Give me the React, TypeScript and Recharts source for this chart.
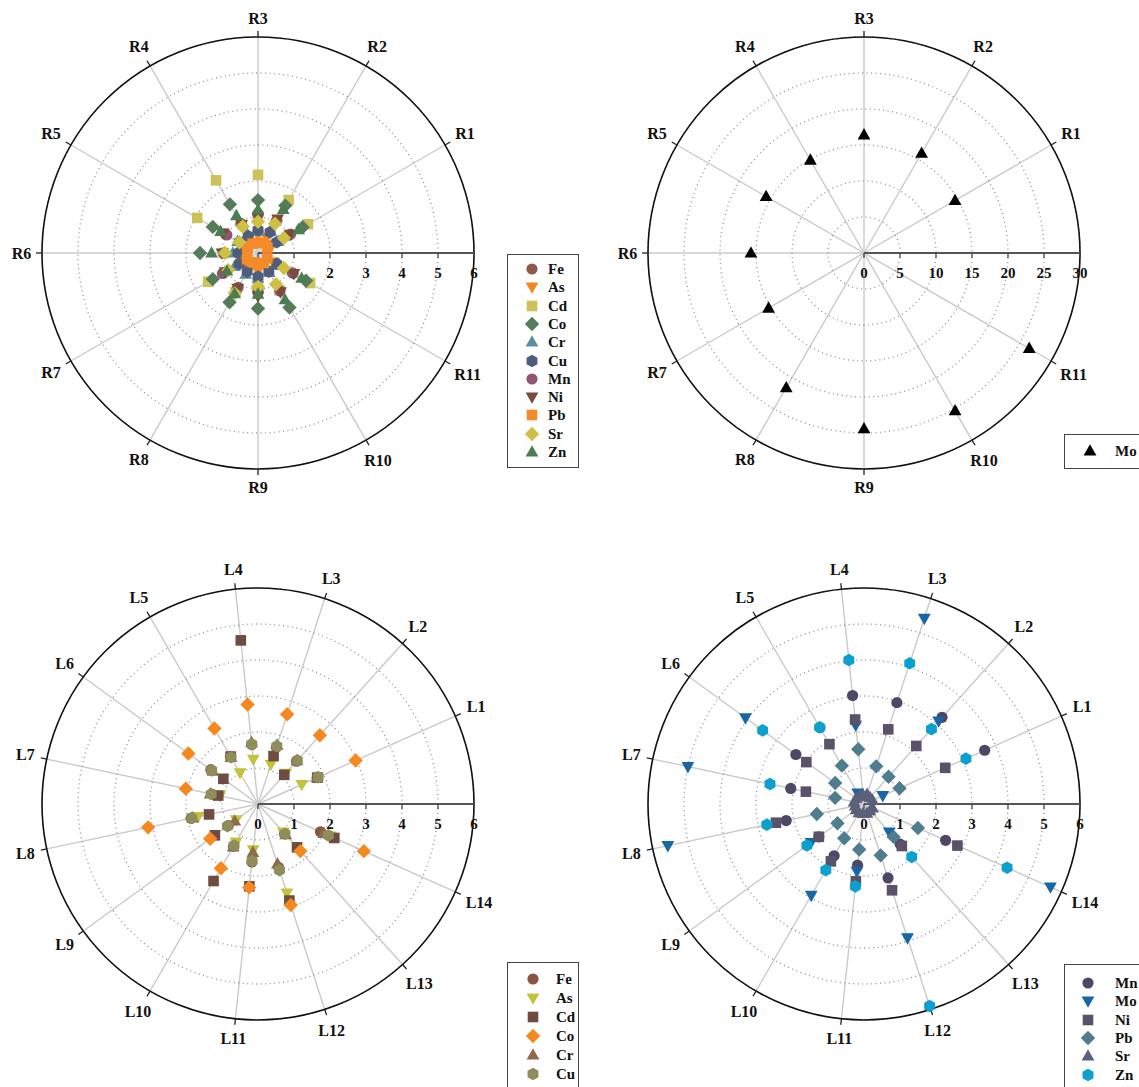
import React from 'react';
import { RadarChart, Radar, PolarGrid, PolarAngleAxis, PolarRadiusAxis } from 'recharts';

const FONT = '"Liberation Serif", "Times New Roman", Times, serif';

// ---------- categories & tick labels ----------
// the extra slot sits on the radial axis (0°) and carries no label
const AXIS_SLOT = 'axis';
const rCats = ['R1', 'R2', 'R3', 'R4', 'R5', 'R6', 'R7', 'R8', 'R9', 'R10', 'R11'];
const lCats = ['L1', 'L2', 'L3', 'L4', 'L5', 'L6', 'L7', 'L8', 'L9', 'L10', 'L11', 'L12', 'L13', 'L14'];
const ticks6 = [0, 1, 2, 3, 4, 5, 6];
const ticks30 = [0, 5, 10, 15, 20, 25, 30];

// ---------- top-left (R1..R11) ----------
const tlFe = [1.0, 1.05, 1.05, 0.95, 1.05, 0.95, 1.1, 1.1, 1.0, 1.2, 1.1];
const tlAs = [0.45, 0.5, 0.5, 0.5, 0.55, 0.45, 0.55, 0.5, 0.5, 0.55, 0.5];
const tlCd = [1.6, 1.7, 2.17, 2.33, 1.95, 0.95, 1.6, 1.25, 0.9, 1.2, 1.67];
const tlCo = [1.43, 1.52, 1.47, 1.56, 1.45, 1.61, 1.45, 1.58, 1.54, 1.75, 1.54];
const tlCr = [0.65, 0.7, 0.6, 0.6, 0.65, 0.7, 0.75, 0.68, 0.7, 0.62, 0.68];
const tlCu = [0.6, 0.67, 0.64, 0.54, 0.6, 0.55, 0.6, 0.6, 0.66, 0.6, 0.6];
const tlMn = [1.05, 1.0, 1.1, 0.9, 1.0, 0.96, 1.14, 1.15, 1.1, 1.22, 1.13];
const tlNi = [1.03, 1.09, 1.0, 0.91, 1.11, 1.0, 1.05, 1.13, 1.2, 1.25, 1.15];
const tlPb = [0.3, 0.32, 0.28, 0.3, 0.33, 0.3, 0.35, 0.3, 0.28, 0.32, 0.3];
const tlSr = [0.83, 0.94, 0.87, 0.85, 0.6, 0.92, 0.95, 1.29, 0.94, 1.0, 0.83];
const tlZn = [1.3, 1.4, 1.2, 1.2, 1.2, 1.29, 1.0, 1.3, 1.14, 1.5, 1.4];

// ---------- top-right (R1..R11) ----------
const trMo = [14.6, 16.0, 16.4, 14.9, 15.7, 15.7, 15.3, 21.6, 24.4, 25.3, 26.5];

// ---------- bottom-left (L1..L14) ----------
const blFe = [1.8, 1.6, 1.66, 1.66, 1.53, 1.62, 1.3, 1.9, 1.02, 1.36, 1.62, 1.85, 1.1, 1.9];
const blAs = [1.33, 1.15, 1.16, 1.25, 1.0, 1.2, 1.08, 1.7, 0.75, 1.22, 1.28, 2.6, 1.05, 2.2];
const blCd = [1.8, 1.09, 1.4, 4.57, 1.52, 1.19, 1.13, 1.39, 1.48, 2.47, 2.3, 2.82, 1.62, 2.32];
const blCo = [2.97, 2.57, 2.62, 2.78, 2.42, 2.39, 2.05, 3.12, 1.64, 2.06, 2.33, 2.95, 1.76, 3.22];
const blCr = [1.8, 1.62, 1.72, 1.72, 1.5, 1.55, 1.36, 1.85, 0.8, 1.38, 1.35, 1.75, 1.15, 2.0];
const blCu = [1.83, 1.63, 1.69, 1.67, 1.5, 1.59, 1.33, 1.88, 1.05, 1.33, 1.59, 1.93, 1.12, 2.14];

// ---------- bottom-right (L1..L14) ----------
const brMn = [3.67, 3.24, 2.96, 3.03, 2.45, 2.34, 2.08, 2.21, 1.55, 1.66, 1.71, 2.16, 1.5, 2.48];
const brMo = [0.57, 3.1, 5.42, 2.2, 0.35, 4.07, 5.0, 5.57, 1.82, 2.93, 1.88, 3.91, 1.05, 5.67];
const brNi = [2.47, 2.17, 2.18, 2.36, 1.92, 1.98, 1.65, 2.5, 1.55, 1.84, 2.16, 2.52, 1.57, 2.84];
const brPb = [1.08, 1.02, 1.1, 1.53, 1.23, 0.99, 0.82, 1.34, 0.91, 1.1, 1.27, 1.5, 1.23, 1.64];
const brSr = [0.26, 0.25, 0.28, 0.26, 0.24, 0.27, 0.28, 0.25, 0.27, 0.28, 0.26, 0.27, 0.25, 0.26];
const brZn = [3.1, 2.8, 4.11, 4.02, 2.46, 3.48, 2.67, 2.76, 1.96, 2.12, 2.3, 5.9, 1.98, 4.35];

type Shape = 'circle' | 'square' | 'diamond' | 'triUp' | 'triDown' | 'hexagon';
type Series = { name: string; values: number[]; shape: Shape; color: string };

const tlSeries: Series[] = [
  { name: 'Fe', values: tlFe, shape: 'circle', color: '#8e5a48' },
  { name: 'As', values: tlAs, shape: 'triDown', color: '#f7861e' },
  { name: 'Cd', values: tlCd, shape: 'square', color: '#cdc25a' },
  { name: 'Co', values: tlCo, shape: 'diamond', color: '#567b59' },
  { name: 'Cr', values: tlCr, shape: 'triUp', color: '#5b8da3' },
  { name: 'Cu', values: tlCu, shape: 'hexagon', color: '#4e5d7c' },
  { name: 'Mn', values: tlMn, shape: 'circle', color: '#8f5674' },
  { name: 'Ni', values: tlNi, shape: 'triDown', color: '#7b4b3b' },
  { name: 'Pb', values: tlPb, shape: 'square', color: '#f58a2a' },
  { name: 'Sr', values: tlSr, shape: 'diamond', color: '#cdc043' },
  { name: 'Zn', values: tlZn, shape: 'triUp', color: '#4b7c52' },
];
const trSeries: Series[] = [{ name: 'Mo', values: trMo, shape: 'triUp', color: '#000000' }];
const blSeries: Series[] = [
  { name: 'Fe', values: blFe, shape: 'circle', color: '#8a5443' },
  { name: 'As', values: blAs, shape: 'triDown', color: '#c3c23b' },
  { name: 'Cd', values: blCd, shape: 'square', color: '#6e4c42' },
  { name: 'Co', values: blCo, shape: 'diamond', color: '#f5881f' },
  { name: 'Cr', values: blCr, shape: 'triUp', color: '#8d6b4b' },
  { name: 'Cu', values: blCu, shape: 'hexagon', color: '#8f8e5b' },
];
const brSeries: Series[] = [
  { name: 'Mn', values: brMn, shape: 'circle', color: '#4e4765' },
  { name: 'Mo', values: brMo, shape: 'triDown', color: '#1866a6' },
  { name: 'Ni', values: brNi, shape: 'square', color: '#595269' },
  { name: 'Pb', values: brPb, shape: 'diamond', color: '#4e7d8e' },
  { name: 'Sr', values: brSr, shape: 'triUp', color: '#5a607a' },
  { name: 'Zn', values: brZn, shape: 'hexagon', color: '#0ca0cf' },
];

const pts = (list: number[][], x: number, y: number) => list.map(([a, b]) => `${x + a},${y + b}`).join(' ');

function Marker({ x, y, shape, color }: { x: number; y: number; shape: Shape; color: string }) {
  switch (shape) {
    case 'circle':
      return <circle cx={x} cy={y} r={5.6} fill={color} />;
    case 'square':
      return <rect x={x - 5.3} y={y - 5.3} width={10.6} height={10.6} fill={color} />;
    case 'diamond':
      return <polygon points={pts([[0, -7.2], [7.2, 0], [0, 7.2], [-7.2, 0]], x, y)} fill={color} />;
    case 'triUp':
      return <polygon points={pts([[0, -6.8], [6.4, 4.6], [-6.4, 4.6]], x, y)} fill={color} />;
    case 'triDown':
      return <polygon points={pts([[0, 6.8], [6.4, -4.6], [-6.4, -4.6]], x, y)} fill={color} />;
    case 'hexagon': {
      const h: number[][] = [];
      for (let k = 0; k < 6; k++) {
        const a = ((-90 + 60 * k) * Math.PI) / 180;
        h.push([6.3 * Math.cos(a), 6.3 * Math.sin(a)]);
      }
      return <polygon points={pts(h, x, y)} fill={color} />;
    }
  }
  return null;
}

const makeDot = (shape: Shape, color: string) => (props: any) => {
  const { cx, cy, index } = props;
  const v = props.value ?? props.payload?.value;
  if (v == null || Number.isNaN(v) || !Number.isFinite(cx) || !Number.isFinite(cy)) {
    return <g key={`e-${index}`} />;
  }
  return (
    <g key={`d-${index}`}>
      <Marker x={cx} y={cy} shape={shape} color={color} />
    </g>
  );
};

const W = 560;
const C = W / 2;
const R = 216;

function PolarPanel({ cx, cy, cats, series, ticks }: { cx: number; cy: number; cats: string[]; series: Series[]; ticks: number[] }) {
  // angles run clockwise from 360°, so the axis slot comes first and the
  // categories follow in reverse order -> R1/L1 ends up counter-clockwise from the axis
  const axisRow: any = { cat: AXIS_SLOT };
  series.forEach((s) => { axisRow[s.name] = null; });
  const rows = cats.map((c, i) => {
    const row: any = { cat: c };
    series.forEach((s) => { row[s.name] = s.values[i]; });
    return row;
  });
  const data = [axisRow, ...rows.reverse()];

  const angleTick = (props: any) => {
    const { x, y, payload, index } = props;
    const v = payload?.value;
    if (!v || v === AXIS_SLOT) return <g key={`at-${index}`} />;
    const dx = x - C;
    const dy = y - C;
    const d = Math.hypot(dx, dy) || 1;
    const ux = dx / d;
    const uy = dy / d;
    const halfW = v.length > 2 ? 13 : 9.5;
    const off = R + 11 + halfW * Math.abs(ux) + 7.5 * Math.abs(uy);
    return (
      <g key={`at-${index}`}>
        <line x1={C + ux * R} y1={C + uy * R} x2={C + ux * (R + 6)} y2={C + uy * (R + 6)} stroke="#222" strokeWidth={1.3} />
        <text
          x={C + ux * off}
          y={C + uy * off}
          textAnchor="middle"
          dominantBaseline="central"
          fontFamily={FONT}
          fontWeight="bold"
          fontSize={16}
          fill="#111"
        >
          {v}
        </text>
      </g>
    );
  };

  const radTick = (props: any) => {
    const { x, y, payload, index } = props;
    return (
      <g key={`rt-${index}`}>
        <line x1={x} y1={y} x2={x} y2={y + 5} stroke="#444" strokeWidth={1.3} />
        <text x={x} y={y + 25} textAnchor="middle" fontFamily={FONT} fontWeight="bold" fontSize={15} fill="#111">
          {payload.value}
        </text>
      </g>
    );
  };

  return (
    <div style={{ position: 'absolute', left: cx - C, top: cy - C, width: W, height: W }}>
      <RadarChart
        width={W}
        height={W}
        data={data}
        cx="50%"
        cy="50%"
        outerRadius={R}
        startAngle={360}
        endAngle={0}
        margin={{ top: 0, right: 0, bottom: 0, left: 0 }}
      >
        <PolarGrid gridType="circle" polarRadius={[]} stroke="#cacaca" strokeWidth={1.4} />
        <PolarGrid gridType="circle" radialLines={false} stroke="#8a8eae" strokeWidth={1.3} strokeDasharray="1 3.5" />
        <PolarAngleAxis
          dataKey="cat"
          axisLineType="circle"
          stroke="#111"
          axisLine={{ stroke: '#111', strokeWidth: 1.6 }}
          tickLine={false}
          tick={angleTick}
        />
        <PolarRadiusAxis
          angle={0}
          type="number"
          domain={[ticks[0], ticks[ticks.length - 1]]}
          tickCount={ticks.length}
          allowDataOverflow
          axisLine={{ stroke: '#555', strokeWidth: 2 }}
          stroke="#555"
          tick={radTick}
        />
        {series.map((s) => (
          <Radar
            key={s.name}
            dataKey={s.name}
            name={s.name}
            stroke="none"
            fill="none"
            fillOpacity={0}
            dot={makeDot(s.shape, s.color)}
            activeDot={false}
            legendType="none"
            isAnimationActive={false}
          />
        ))}
      </RadarChart>
    </div>
  );
}

function LegendBox({
  left, top, width, height, items, markerX, textX, firstY, step,
}: {
  left: number; top: number; width: number; height: number; items: Series[];
  markerX: number; textX: number; firstY: number; step: number;
}) {
  return (
    <div
      style={{
        position: 'absolute', left, top, width, height,
        border: '1.5px solid #444', boxSizing: 'border-box', background: '#fff',
      }}
    >
      {items.map((s, i) => (
        <div key={s.name} style={{ position: 'absolute', left: 0, top: firstY + i * step - 10, height: 20, width: '100%' }}>
          <svg width={20} height={20} style={{ position: 'absolute', left: markerX - 10, top: 0 }}>
            <Marker x={10} y={10} shape={s.shape} color={s.color} />
          </svg>
          <span
            style={{
              position: 'absolute', left: textX, top: 0, lineHeight: '20px',
              fontFamily: FONT, fontWeight: 'bold', fontSize: 15, color: '#111', whiteSpace: 'nowrap',
            }}
          >
            {s.name}
          </span>
        </div>
      ))}
    </div>
  );
}

export default function App() {
  return (
    <div
      style={{
        position: 'absolute', left: 0, top: 0, width: 1139, height: 1087,
        overflow: 'hidden', background: '#fff',
      }}
    >
      <PolarPanel cx={258} cy={253} cats={rCats} series={tlSeries} ticks={ticks6} />
      <PolarPanel cx={864} cy={253} cats={rCats} series={trSeries} ticks={ticks30} />
      <PolarPanel cx={258} cy={804} cats={lCats} series={blSeries} ticks={ticks6} />
      <PolarPanel cx={864} cy={804} cats={lCats} series={brSeries} ticks={ticks6} />

      <LegendBox left={507} top={254} width={72} height={214} items={tlSeries} markerX={24} textX={40} firstY={14} step={18.3} />
      <LegendBox left={1064} top={434} width={90} height={35} items={trSeries} markerX={25} textX={50} firstY={16} step={18} />
      <LegendBox left={507} top={962} width={72} height={140} items={blSeries} markerX={25} textX={48} firstY={16} step={18.9} />
      <LegendBox left={1064} top={964} width={90} height={140} items={brSeries} markerX={23} textX={50} firstY={18} step={18.3} />
    </div>
  );
}
